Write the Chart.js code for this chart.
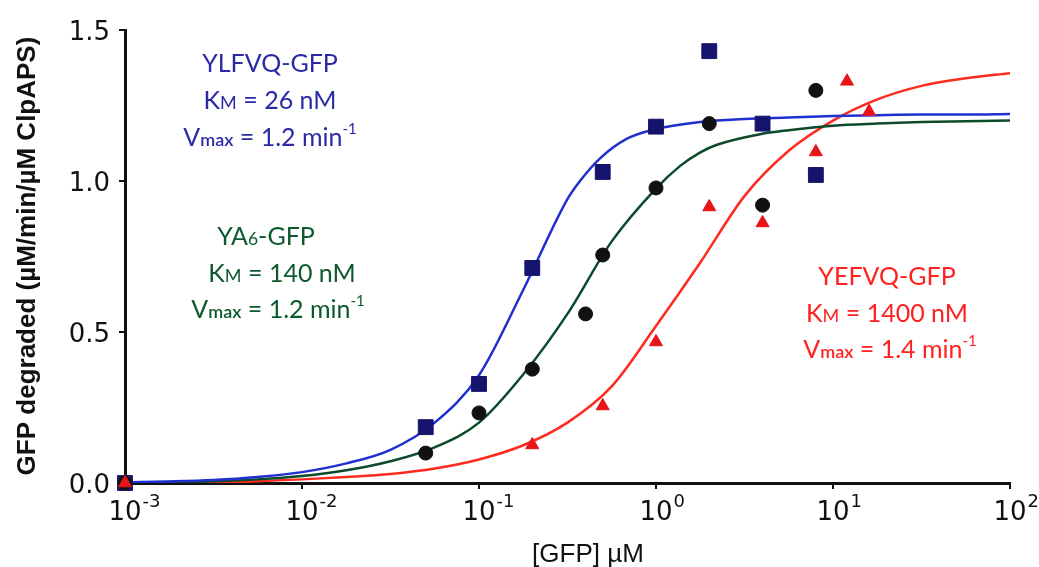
<!DOCTYPE html>
<html>
<head>
<meta charset="utf-8">
<script src="https://cdn.jsdelivr.net/npm/chart.js@4/dist/chart.umd.min.js"></script>
<style>
  html, body { margin: 0; padding: 0; background: #fff; }
  canvas { display: block; }
</style>
</head>
<body>
<canvas id="chart" width="1039" height="567"></canvas>
<script>
// measured points, [GFP] in µM
const blueX = [0.001, 0.05, 0.1, 0.2, 0.5, 1, 2, 4, 8];
const blueY = [0, 0.185, 0.328, 0.712, 1.03, 1.18, 1.43, 1.19, 1.02];
const greenX = [0.001, 0.05, 0.1, 0.2, 0.4, 0.5, 1, 2, 4, 8];
const greenY = [0, 0.099, 0.232, 0.377, 0.56, 0.755, 0.977, 1.19, 0.92, 1.30];
const redX = [0.001, 0.2, 0.5, 1, 2, 4, 8, 12, 16];
const redY = [0, 0.126, 0.255, 0.467, 0.914, 0.861, 1.096, 1.33, 1.23];

// fitted curves
const blueFitX = [0.001, 0.00178, 0.00316, 0.00562, 0.01, 0.0178, 0.0316, 0.0562, 0.1, 0.178, 0.316,
  0.372, 0.483, 0.686, 1, 1.78, 3.16, 5.62, 10, 17.8, 31.6, 56.2, 100];
const blueFit = [0.002, 0.005, 0.01, 0.02, 0.036, 0.065, 0.11, 0.20, 0.357, 0.64, 0.94,
  1.0, 1.075, 1.14, 1.172, 1.195, 1.205, 1.21, 1.215, 1.218, 1.22, 1.22, 1.222];
const greenFitX = [0.001, 0.00178, 0.00316, 0.00562, 0.01, 0.0178, 0.0316, 0.0562, 0.1, 0.178, 0.316,
  0.562, 1, 1.37, 1.78, 2.21, 3.87, 5.62, 10, 17.8, 31.6, 56.2, 100];
const greenFit = [0.001, 0.003, 0.006, 0.012, 0.023, 0.042, 0.072, 0.118, 0.20, 0.36, 0.56,
  0.80, 0.975, 1.05, 1.095, 1.12, 1.155, 1.168, 1.183, 1.19, 1.195, 1.198, 1.20];
const redFitX = [0.001, 0.00178, 0.00316, 0.00562, 0.01, 0.0178, 0.0316, 0.0562, 0.1, 0.178, 0.316,
  0.562, 1, 1.78, 3.16, 5.62, 10, 17.8, 31.6, 56.2, 100];
const redFit = [0, 0.001, 0.003, 0.006, 0.012, 0.02, 0.03, 0.048, 0.078, 0.125, 0.20,
  0.32, 0.52, 0.73, 0.95, 1.10, 1.20, 1.27, 1.315, 1.34, 1.357];

const xTicks = [0.001, 0.01, 0.1, 1, 10, 100];
const xExponents = ['-3', '-2', '-1', '0', '1', '2'];
const yTicks = [0, 0.5, 1, 1.5];

const pts = (xs, ys) => xs.map((x, i) => ({ x, y: ys[i] }));

// text blocks: segments with relative size (s) and raise (dy)
const notes = [
  { color: '#2b2aa6', cx: 270, lines: [
    { y: 72, segs: [{ t: 'YLFVQ-GFP' }] },
    { y: 109, segs: [{ t: 'K' }, { t: 'M', s: 0.72 }, { t: ' = 26 nM' }] },
    { y: 146, segs: [{ t: 'V' }, { t: 'max', s: 0.72, b: true }, { t: ' = 1.2 min' }, { t: '-1', s: 0.6, dy: -0.5 }] }
  ]},
  { color: '#0c5a2c', cx: 278, lines: [
    { y: 245, dx: -12, segs: [{ t: 'YA' }, { t: '6', s: 0.7 }, { t: '-GFP' }] },
    { y: 282, dx: 4, segs: [{ t: 'K' }, { t: 'M', s: 0.72 }, { t: ' = 140 nM' }] },
    { y: 318, segs: [{ t: 'V' }, { t: 'max', s: 0.72, b: true }, { t: ' = 1.2 min' }, { t: '-1', s: 0.6, dy: -0.5 }] }
  ]},
  { color: '#ff2020', cx: 887, lines: [
    { y: 285, segs: [{ t: 'YEFVQ-GFP' }] },
    { y: 322, segs: [{ t: 'K' }, { t: 'M', s: 0.72 }, { t: ' = 1400 nM' }] },
    { y: 358, dx: 3, segs: [{ t: 'V' }, { t: 'max', s: 0.72, b: true }, { t: ' = 1.4 min' }, { t: '-1', s: 0.6, dy: -0.5 }] }
  ]}
];

const noteFont = (size, bold) => `${bold ? '600 ' : ''}${size}px Lato, "Open Sans", sans-serif`;

function drawRich(ctx, segs, cx, y, size) {
  let w = 0;
  segs.forEach(s => {
    ctx.font = noteFont(size * (s.s || 1), s.b);
    w += ctx.measureText(s.t).width;
  });
  let x = cx - w / 2;
  segs.forEach(s => {
    ctx.font = noteFont(size * (s.s || 1), s.b);
    ctx.fillText(s.t, x, y + (s.dy || 0) * size);
    x += ctx.measureText(s.t).width;
  });
}

const whiteBg = {
  id: 'whiteBg',
  beforeDraw(chart) {
    const ctx = chart.ctx;
    ctx.save();
    ctx.fillStyle = '#fff';
    ctx.fillRect(0, 0, chart.width, chart.height);
    ctx.restore();
  }
};

const labels = {
  id: 'labels',
  afterDraw(chart) {
    const { ctx, scales: { x, y } } = chart;
    ctx.save();
    ctx.fillStyle = '#111';
    ctx.textBaseline = 'alphabetic';

    // y tick labels
    ctx.font = '26px "DejaVu Sans", sans-serif';
    ctx.textAlign = 'right';
    yTicks.forEach(v => ctx.fillText(v.toFixed(1), 110, y.getPixelForValue(v) + 9.5));

    // x tick labels 10^n
    xTicks.forEach((v, i) => {
      const px = x.getPixelForValue(v);
      ctx.font = '26px "DejaVu Sans", sans-serif';
      ctx.textAlign = 'center';
      ctx.fillText('10', px, 520);
      const w = ctx.measureText('10').width;
      ctx.font = '18px "DejaVu Sans", sans-serif';
      ctx.textAlign = 'left';
      ctx.fillText(xExponents[i], px + w / 2 + 1, 507);
    });

    // axis titles
    ctx.textAlign = 'center';
    ctx.font = '26px "Liberation Sans", Arial, sans-serif';
    ctx.fillText('[GFP] µM', 588, 562);
    ctx.save();
    ctx.translate(35, 256);
    ctx.rotate(-Math.PI / 2);
    ctx.font = 'bold 26px "Liberation Sans", Arial, sans-serif';
    ctx.fillText('GFP degraded (µM/min/µM ClpAPS)', 0, 0);
    ctx.restore();

    // annotations
    ctx.textAlign = 'left';
    notes.forEach(n => {
      ctx.fillStyle = n.color;
      n.lines.forEach(l => drawRich(ctx, l.segs, n.cx + (l.dx || 0), l.y, 25));
    });
    ctx.restore();
  }
};

new Chart(document.getElementById('chart'), {
  type: 'scatter',
  data: {
    datasets: [
      { data: pts(redX, redY), pointStyle: 'triangle', pointRadius: 7.5, backgroundColor: '#e8141a',
        borderColor: '#e8141a', borderWidth: 1, clip: false, order: 0 },
      { data: pts(greenX, greenY), pointStyle: 'circle', pointRadius: 7, backgroundColor: '#111',
        borderColor: '#111', borderWidth: 1, clip: false, order: 1 },
      { data: pts(blueX, blueY), pointStyle: 'rect', pointRadius: 10.5, backgroundColor: '#14146e',
        borderColor: '#14146e', borderWidth: 1, clip: false, order: 2 },
      { data: pts(blueFitX, blueFit), showLine: true, pointRadius: 0, borderColor: '#1f2fd0',
        borderWidth: 2.5, cubicInterpolationMode: 'monotone', order: 3 },
      { data: pts(greenFitX, greenFit), showLine: true, pointRadius: 0, borderColor: '#0b4a2a',
        borderWidth: 2.5, cubicInterpolationMode: 'monotone', order: 4 },
      { data: pts(redFitX, redFit), showLine: true, pointRadius: 0, borderColor: '#ff2a1f',
        borderWidth: 2.5, cubicInterpolationMode: 'monotone', order: 5 }
    ]
  },
  options: {
    responsive: false,
    animation: false,
    devicePixelRatio: 1,
    layout: { padding: { left: 119, right: 29, top: 30, bottom: 78 } },
    plugins: { legend: { display: false }, tooltip: { enabled: false } },
    scales: {
      x: {
        type: 'logarithmic', min: 0.001, max: 100,
        afterBuildTicks: s => { s.ticks = xTicks.map(v => ({ value: v })); },
        ticks: { display: false },
        grid: { display: true, drawOnChartArea: false, drawTicks: true, tickLength: 6, color: '#111', lineWidth: 2 },
        border: { display: true, color: '#111', width: 3 }
      },
      y: {
        type: 'linear', min: 0, max: 1.5,
        afterBuildTicks: s => { s.ticks = yTicks.map(v => ({ value: v })); },
        ticks: { display: false },
        grid: { display: true, drawOnChartArea: false, drawTicks: true, tickLength: 6, color: '#111', lineWidth: 2 },
        border: { display: true, color: '#111', width: 3 }
      }
    }
  },
  plugins: [whiteBg, labels]
});
</script>
</body>
</html>
